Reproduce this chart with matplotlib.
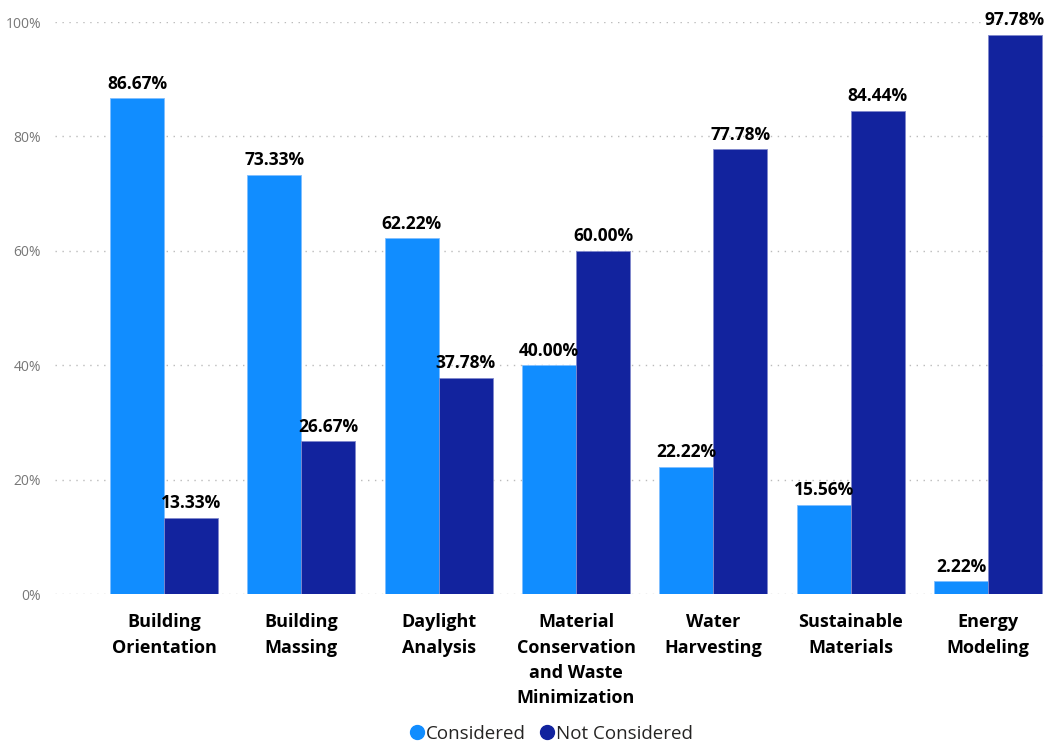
"""Grouped bar chart: share of projects considering each design strategy."""
import matplotlib.pyplot as plt
import numpy as np

categories = [
    "Building\nOrientation",
    "Building\nMassing",
    "Daylight\nAnalysis",
    "Material\nConservation\nand Waste\nMinimization",
    "Water\nHarvesting",
    "Sustainable\nMaterials",
    "Energy\nModeling",
]
considered = [86.67, 73.33, 62.22, 40.00, 22.22, 15.56, 2.22]
not_considered = [13.33, 26.67, 37.78, 60.00, 77.78, 84.44, 97.78]
y_ticks = [0, 20, 40, 60, 80, 100]

c_cons = "#118DFF"
c_not = "#12239E"

plt.rcParams["font.family"] = ["Open Sans", "DejaVu Sans"]

fig = plt.figure(figsize=(10.52, 7.45), dpi=100)
ax = fig.add_axes([55 / 1052, 151 / 745, 990 / 1052, 572 / 745])

x = np.arange(len(categories))
w = 0.393
b1 = ax.bar(x - w / 2, considered, w, color=c_cons, edgecolor="#7fbfff",
            linewidth=0.6, zorder=3, label="Considered")
b2 = ax.bar(x + w / 2, not_considered, w, color=c_not, edgecolor="#8088cc",
            linewidth=0.6, zorder=3, label="Not Considered")

for bars, vals in ((b1, considered), (b2, not_considered)):
    for r, v in zip(bars, vals):
        ax.annotate(f"{v:.2f}%", (r.get_x() + r.get_width() / 2, v),
                    xytext=(0, 4), textcoords="offset points",
                    ha="center", va="bottom", fontsize=12.5,
                    fontweight="bold", color="black", zorder=5,
                    annotation_clip=False)

ax.set_xlim(-0.794, 6.415)
ax.set_ylim(0, 100)
ax.set_yticks(y_ticks)
ax.set_yticklabels([f"{t}%" for t in y_ticks], color="#777777", fontsize=10)
ax.tick_params(axis="y", length=0, pad=10)
ax.yaxis.grid(True, linestyle=(0, (1, 4)), color="#bbbbbb", linewidth=1)
ax.set_axisbelow(True)

ax.set_xticks(x)
ax.set_xticklabels(categories, fontsize=13, fontweight="bold",
                   linespacing=1.52, va="top")
ax.tick_params(axis="x", length=0, pad=14)

for s in ax.spines.values():
    s.set_visible(False)

handles = [
    plt.Line2D([], [], marker="o", linestyle="", markersize=10, color=c_cons),
    plt.Line2D([], [], marker="o", linestyle="", markersize=10, color=c_not),
]
fig.legend(handles, ["Considered", "Not Considered"], loc="center",
           bbox_to_anchor=(0.523, 1 - 734 / 745), ncol=2, frameon=False,
           fontsize=13.5, handletextpad=0.0, columnspacing=0.6,
           handlelength=1.0, labelcolor="#252423")

fig.savefig("out.png", dpi=100)
